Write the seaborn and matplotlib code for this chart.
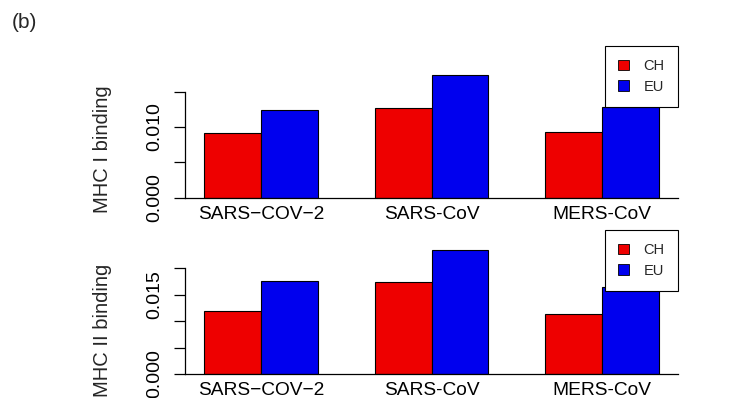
import pandas as pd
import matplotlib
matplotlib.use("Agg")
import matplotlib.pyplot as plt
from matplotlib.patches import Patch
import seaborn as sns

# values
viruses = ["SARS\u2212COV\u22122", "SARS-CoV", "MERS-CoV"]
groups = ["CH", "EU"]
mhc1_ch = [0.00922, 0.01274, 0.00931]
mhc1_eu = [0.01242, 0.01740, 0.01289]
mhc2_ch = [0.01190, 0.01734, 0.01139]
mhc2_eu = [0.01753, 0.02348, 0.01646]
mhc1_ticks = [0.0, 0.005, 0.010, 0.015]
mhc1_labels = ["0.000", "", "0.010", ""]
mhc2_ticks = [0.0, 0.005, 0.010, 0.015, 0.020]
mhc2_labels = ["0.000", "", "", "0.015", ""]

colors = {"CH": "#EE0000", "EU": "#0000EE"}

sns.set_theme(style="white")
plt.rcParams["font.family"] = ["Liberation Sans", "DejaVu Sans"]


def make_df(ch, eu):
    return pd.DataFrame({
        "virus": viruses * 2,
        "group": ["CH"] * 3 + ["EU"] * 3,
        "value": ch + eu,
    })


def draw_panel(ax, df, ticks, labels, ytop):
    sns.barplot(data=df, x="virus", y="value", hue="group", order=viruses,
                hue_order=groups, palette=colors, saturation=1, width=2 / 3,
                gap=0, edgecolor="black", linewidth=0.8, legend=False, ax=ax,
                errorbar=None)
    ax.set_xlim(-0.4447, 2.4447)
    ax.set_ylim(0, ytop)
    ax.set_xlabel("")
    ax.set_ylabel("")
    ax.set_yticks(ticks)
    ax.set_yticklabels(labels)
    for s in ["top", "right"]:
        ax.spines[s].set_visible(False)
    ax.spines["left"].set_bounds(ticks[0], ticks[-1])
    ax.spines["left"].set_color("black")
    ax.spines["bottom"].set_color("black")
    ax.spines["left"].set_linewidth(0.9)
    ax.spines["bottom"].set_linewidth(0.9)
    ax.tick_params(axis="y", left=True, length=8, width=0.9, pad=8,
                   labelsize=14, colors="black")
    ax.tick_params(axis="x", bottom=False, pad=0, labelsize=13.8, colors="black")
    for t in ax.get_yticklabels():
        t.set_rotation(90)
        t.set_va("center")
    handles = [Patch(facecolor=colors[g], edgecolor="black", linewidth=0.6, label=g)
               for g in groups]
    leg = ax.legend(handles=handles, loc="upper right", bbox_to_anchor=(1, 1),
                    borderaxespad=0, fontsize=10.5, frameon=True, fancybox=False,
                    handlelength=0.75, handleheight=0.75, handletextpad=1.0,
                    borderpad=0.9, labelspacing=0.45)
    leg.get_frame().set_edgecolor("black")
    leg.get_frame().set_linewidth(0.8)
    leg.get_frame().set_alpha(1)


fig = plt.figure(figsize=(7.36, 3.98), dpi=100)
ax1 = fig.add_axes([185 / 736, 1 - 197.7 / 398, 493 / 736, 151.7 / 398])
ax2 = fig.add_axes([185 / 736, 1 - 374 / 398, 493 / 736, 144 / 398])

draw_panel(ax1, make_df(mhc1_ch, mhc1_eu), mhc1_ticks, mhc1_labels, 0.02147)
draw_panel(ax2, make_df(mhc2_ch, mhc2_eu), mhc2_ticks, mhc2_labels, 0.02727)

fig.text(102 / 736, 1 - 149 / 398, "MHC I binding", rotation=90,
         ha="center", va="center", fontsize=14.5)
fig.text(102 / 736, 1 - 330 / 398, "MHC II binding", rotation=90,
         ha="center", va="center", fontsize=14.5)
fig.text(12 / 736, 1 - 22 / 398, "(b)", ha="left", va="center", fontsize=15)

fig.savefig("out.png", dpi=100)
